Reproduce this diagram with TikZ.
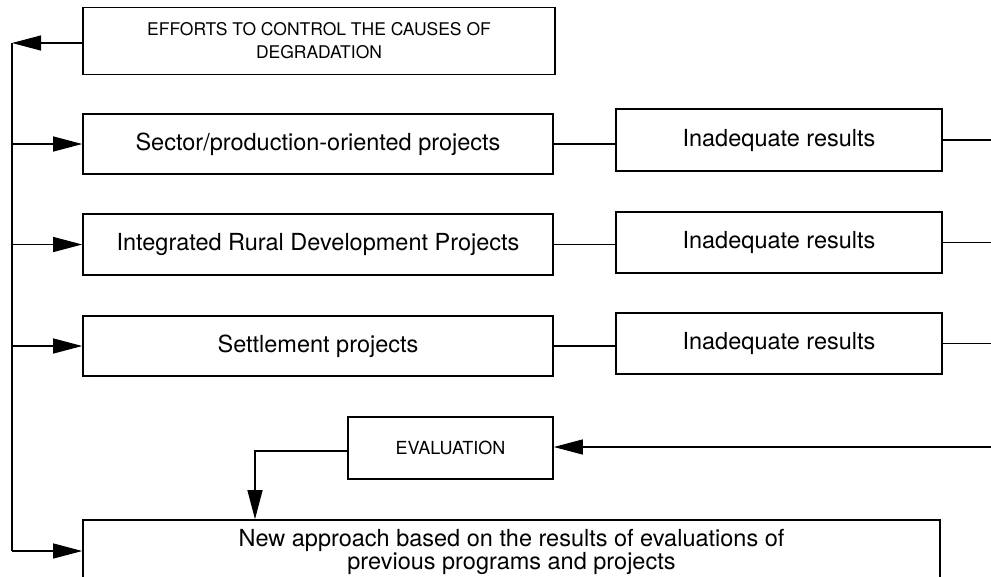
\documentclass[tikz,border=0pt]{standalone}
\usepackage{fontspec}
\setmainfont{TeX Gyre Heros}
\usetikzlibrary{arrows.meta}
\begin{document}
\begin{tikzpicture}[x=1pt,y=-1pt,
  box/.style={draw,line width=1.6pt,inner sep=0pt,align=center,font=\fontsize{23.5}{22}\selectfont},
  capbox/.style={box,font=\fontsize{17.5}{23}\selectfont},
  conn/.style={line width=1.2pt},
  arr/.style={conn,-{Triangle[length=29pt,width=15pt]}}]
\useasboundingbox (0,0) rectangle (991,576);
\clip (0,0) rectangle (991,576);
\node[capbox,minimum width=472pt,minimum height=67pt] (top) at (319,41) {EFFORTS TO CONTROL THE CAUSES OF\\DEGRADATION};
\node[box,minimum width=470pt,minimum height=60pt] (p1) at (318,144) {Sector/production-oriented projects};
\node[box,minimum width=470pt,minimum height=61pt] (p2) at (318,244.5) {Integrated Rural Development Projects};
\node[box,minimum width=470pt,minimum height=60pt] (p3) at (318,346) {Settlement projects};
\node[box,minimum width=326pt,minimum height=62pt] (r1) at (779,140) {Inadequate results};
\node[box,minimum width=326pt,minimum height=61pt] (r2) at (779,242.5) {Inadequate results};
\node[box,minimum width=326pt,minimum height=61pt] (r3) at (779,343.5) {Inadequate results};
\node[capbox,font=\fontsize{18}{22}\selectfont,minimum width=205pt,minimum height=62pt] (ev) at (450.5,448) {EVALUATION};
\node[draw,line width=1.6pt,minimum width=857pt,minimum height=80pt,inner sep=0pt] (na) at (511.5,560) {};
\node[align=center,inner sep=0pt,font=\fontsize{23.5}{21.5}\selectfont] (natext) at (511.5,552) {New approach based on the results of evaluations of\\previous programs and projects};
\coordinate (L) at (12,43);
\coordinate (B) at (12,551);
\coordinate (R) at (991,0);
\coordinate (e4) at (991,447);
\coordinate (k) at (255,451);
% left feedback
\draw[arr] (top.west |- L) -- (L);
\draw[conn] (L) -- (B);
\draw[arr] (B) -- (na.west |- B);
\draw[arr] (L |- p1.west) -- (p1.west);
\draw[arr] (L |- p2.west) -- (p2.west);
\draw[arr] (L |- p3.west) -- (p3.west);
% rows
\draw[conn] (p1.east) -- (r1.west |- p1.east);
\draw[conn] (p2.east) -- (r2.west |- p2.east);
\draw[conn] (p3.east) -- (r3.west |- p3.east);
\draw[conn] (r1.east) -- (r1.east -| R);
\draw[conn] (r2.east) -- (r2.east -| R);
\draw[conn] (r3.east) -- (r3.east -| R);
% evaluation
\draw[arr] (e4) -- (ev.east |- e4);
\draw[arr] (ev.west |- k) -- (k) -- (k |- na.north);
\end{tikzpicture}
\end{document}
